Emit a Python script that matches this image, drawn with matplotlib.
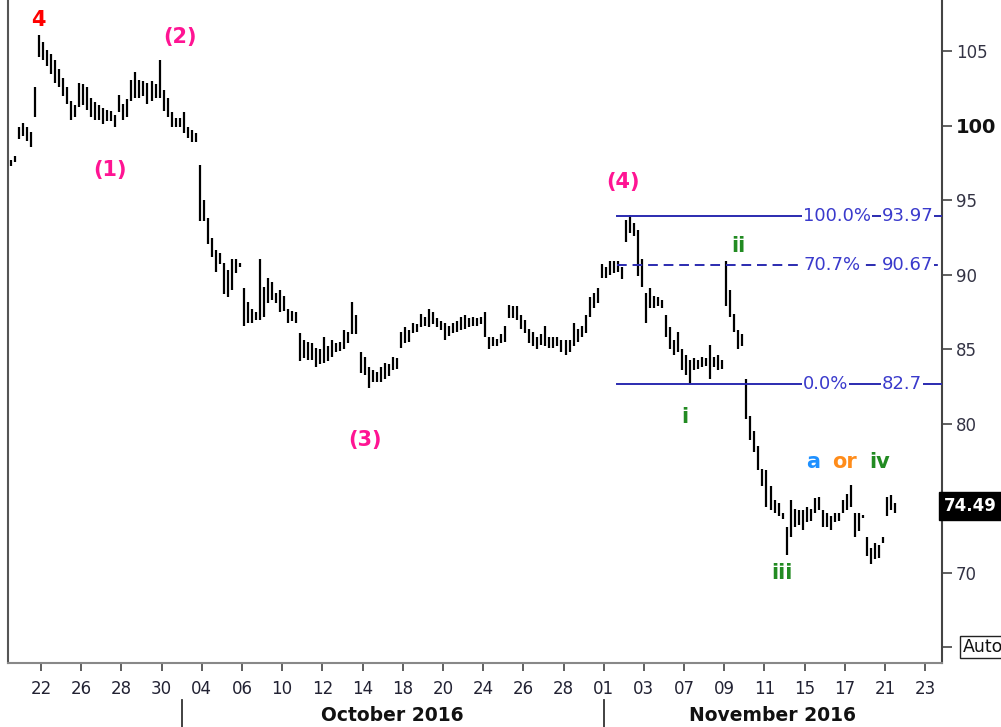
import numpy as np
import pandas as pd
import matplotlib
matplotlib.use("Agg")
import matplotlib.pyplot as plt
from matplotlib.transforms import blended_transform_factory

# trading days shown on the axis (first one only partly visible)
days = pd.bdate_range("2016-09-20", "2016-11-23")
bars_per_day = 5

# hourly-ish bars, grouped by trading day
highs = [
    97.7, 98.0, 99.9,                       # Sep 20 (partial)
    100.2, 99.9, 99.6, 102.6, 106.1,        # Sep 21
    105.6, 105.1, 104.8, 104.4, 103.8,      # Sep 22
    103.2, 102.6, 101.7, 101.4, 102.9,      # Sep 23
    102.8, 102.6, 101.9, 101.6, 101.4,      # Sep 26
    101.2, 101.1, 101.0, 100.7, 102.1,      # Sep 27
    101.5, 101.8, 103.1, 103.6, 103.1,      # Sep 28
    103.0, 102.9, 103.0, 102.8, 104.4,      # Sep 29
    102.4, 101.9, 100.9, 100.5, 100.5,      # Sep 30
    100.9, 99.9, 99.7, 99.5, 97.4,          # Oct 03
    95.0, 93.8, 92.5, 91.7, 91.5,           # Oct 04
    90.8, 90.3, 91.1, 91.1, 90.8,           # Oct 05
    89.1, 88.2, 87.7, 87.5, 91.1,           # Oct 06
    89.2, 89.8, 89.5, 88.8, 89.0,           # Oct 07
    88.6, 87.7, 87.6, 87.5, 86.1,           # Oct 10
    85.6, 85.5, 85.4, 85.1, 85.0,           # Oct 11
    85.8, 85.2, 85.6, 85.4, 85.5,           # Oct 12
    86.3, 86.2, 88.2, 87.3, 84.8,           # Oct 13
    84.5, 83.8, 83.6, 83.5, 83.8,           # Oct 14
    84.1, 84.0, 84.5, 84.4, 86.2,           # Oct 17
    86.5, 86.3, 86.8, 86.7, 87.4,           # Oct 18
    87.2, 87.7, 87.5, 87.1, 86.9,           # Oct 19
    86.8, 86.6, 86.8, 86.9, 87.2,           # Oct 20
    87.3, 87.1, 87.2, 87.1, 87.2,           # Oct 21
    87.5, 85.8, 85.8, 85.7, 86.0,           # Oct 24
    86.6, 88.0, 87.9, 87.9, 87.3,           # Oct 25
    87.0, 86.4, 86.2, 85.8, 86.0,           # Oct 26
    86.6, 85.8, 85.8, 85.8, 85.6,           # Oct 27
    85.6, 85.6, 86.8, 86.4, 86.6,           # Oct 28
    87.3, 88.5, 88.8, 89.1, 90.7,           # Oct 31
    90.5, 90.9, 90.9, 90.9, 90.5,           # Nov 01
    93.7, 94.0, 93.5, 93.0, 91.1,           # Nov 02
    88.8, 89.1, 88.6, 88.5, 88.3,           # Nov 03
    87.3, 86.5, 85.6, 86.2, 85.0,           # Nov 04
    84.6, 84.3, 84.4, 84.3, 84.5,           # Nov 07
    84.4, 85.3, 84.5, 84.6, 84.3,           # Nov 08
    90.9, 89.0, 87.4, 86.3, 86.0,           # Nov 09
    83.0, 80.5, 79.5, 78.5, 77.0,           # Nov 10
    76.9, 75.8, 74.9, 74.7, 74.0,           # Nov 11
    73.1, 74.9, 74.3, 74.2, 74.2,           # Nov 14
    74.4, 74.3, 75.0, 75.1, 74.2,           # Nov 15
    74.0, 73.8, 74.0, 74.0, 74.9,           # Nov 16
    75.3, 75.9, 74.0, 74.0, 73.9,           # Nov 17
    72.4, 71.7, 72.0, 71.9, 72.4,           # Nov 18
    75.1, 75.2, 74.7,                       # Nov 21
]
lows = [
    97.3, 97.6, 99.1,
    99.3, 99.0, 98.6, 100.6, 104.6,
    104.4, 104.0, 103.5, 102.9, 102.6,
    102.0, 101.5, 100.4, 100.6, 101.3,
    101.4, 101.1, 100.6, 100.4, 100.4,
    100.1, 100.3, 100.3, 99.9, 100.9,
    100.4, 100.6, 101.7, 101.9, 101.9,
    102.0, 101.5, 101.7, 101.9, 101.9,
    101.0, 100.6, 99.9, 99.9, 99.9,
    99.5, 99.2, 98.9, 98.9, 93.6,
    93.6, 92.1, 91.2, 90.2, 90.7,
    88.7, 88.5, 89.0, 90.1, 90.5,
    86.6, 86.8, 86.8, 87.0, 87.0,
    87.2, 88.1, 88.3, 88.1, 87.5,
    87.6, 86.8, 86.9, 86.8, 84.2,
    84.4, 84.3, 84.3, 83.8, 84.0,
    84.1, 84.2, 84.5, 84.8, 84.9,
    85.0, 85.4, 86.0, 86.0, 83.4,
    83.3, 82.4, 82.8, 82.8, 82.8,
    83.0, 83.2, 83.6, 83.7, 85.1,
    85.4, 85.5, 86.1, 86.2, 86.5,
    86.6, 86.5, 86.7, 86.5, 86.3,
    85.6, 85.9, 86.1, 86.2, 86.3,
    86.4, 86.5, 86.6, 86.6, 86.7,
    85.8, 85.0, 85.2, 85.2, 85.4,
    85.5, 87.1, 87.1, 87.0, 86.4,
    86.1, 85.4, 85.2, 85.0, 85.3,
    85.2, 85.1, 85.1, 85.2, 84.8,
    84.6, 84.8, 85.2, 85.5, 85.8,
    86.1, 87.2, 87.8, 88.1, 89.8,
    89.8, 90.0, 90.1, 90.2, 89.7,
    92.2, 92.8, 92.6, 89.9, 89.2,
    86.8, 87.8, 87.8, 87.9, 87.8,
    85.8, 85.0, 84.6, 84.8, 83.6,
    83.3, 82.7, 83.6, 83.7, 83.8,
    83.9, 83.0, 83.8, 83.6, 83.7,
    87.9, 87.2, 86.2, 85.0, 85.2,
    80.3, 78.9, 78.1, 76.9, 75.8,
    74.4, 74.2, 74.0, 73.8, 73.6,
    71.2, 72.4, 73.1, 73.2, 72.9,
    73.4, 73.5, 74.0, 74.2, 73.1,
    73.1, 72.9, 73.4, 73.5, 74.0,
    74.2, 74.4, 72.4, 72.8, 73.7,
    71.1, 70.6, 70.9, 71.0, 72.0,
    73.8, 74.2, 74.0,
]
last_price = 74.49

# fibonacci retracement levels
fib_pcts = ["100.0%", "70.7%", "0.0%"]
fib_vals = [93.97, 90.67, 82.7]
fib_styles = ["-", "--", "-"]

# elliott wave labels: text, trading-day position, price, colour
waves = [
    ("4", 1.85, 107.1, "#ff0000"),
    ("(2)", 8.92, 106.0, "#ff1493"),
    ("(1)", 5.43, 97.05, "#ff1493"),
    ("(3)", 18.12, 78.9, "#ff1493"),
    ("(4)", 30.96, 96.25, "#ff1493"),
    ("ii", 36.68, 91.95, "#228b22"),
    ("i", 34.04, 80.45, "#228b22"),
    ("iii", 38.87, 70.0, "#228b22"),
    ("a", 40.41, 77.45, "#1e90ff"),
    ("or", 42.0, 77.45, "#ff8c1a"),
    ("iv", 43.74, 77.45, "#228b22"),
]

fig = plt.figure(figsize=(10.01, 7.27), dpi=100)
ax = fig.add_axes([0.008, 0.088, 0.933, 0.912])

n = len(highs)
first_bar = 2.5 / bars_per_day  # first visible slot on Sep 20
xs = first_bar + np.arange(n) / bars_per_day
ax.vlines(xs, lows, highs, color="black", lw=1.6)

# fib lines + labels
fib_start = 30.66
for pct, val, ls in zip(fib_pcts, fib_vals, fib_styles):
    ax.plot([fib_start, 47], [val, val], color="#2b2bb0", lw=1.4, ls=ls,
            dashes=(5, 3) if ls == "--" else (None, None), zorder=3)
    ax.text(39.92, val, pct, ha="left", va="center", fontsize=13,
            color="#3a3acc", zorder=4,
            bbox=dict(facecolor="white", edgecolor="none", pad=0.5))
    ax.text(43.84, val, "%g" % val, ha="left", va="center", fontsize=13,
            color="#3a3acc", zorder=4,
            bbox=dict(facecolor="white", edgecolor="none", pad=0.5))

for txt, x, y, c in waves:
    ax.text(x, y, txt, ha="center", va="center", fontsize=15,
            fontweight="bold", color=c)

ax.set_xlim(0.36, 46.83)
ax.set_ylim(63.95, 108.45)

# axes look
ax.spines["top"].set_visible(False)
ax.spines["left"].set_color("#555555")
ax.spines["right"].set_color("#444444")
ax.spines["bottom"].set_color("#888888")
for s in ["left", "right", "bottom"]:
    ax.spines[s].set_linewidth(1.5)

ax.yaxis.tick_right()
yt = [65, 70, 80, 85, 90, 95, 100, 105]
ax.set_yticks(yt)
ax.set_yticklabels(["" if v == 65 else str(v) for v in yt])
ax.tick_params(axis="y", direction="out", length=7, width=1.2, pad=3,
               labelsize=12, labelcolor="#333344", color="#444444")
for lab in ax.get_yticklabels():
    if lab.get_text() == "100":
        lab.set_fontweight("bold")
        lab.set_fontsize(14)
        lab.set_color("#111111")

xt = list(range(2, len(days), 2))
ax.set_xticks(xt)
ax.set_xticklabels([days[i].strftime("%d") for i in xt])
ax.tick_params(axis="x", direction="out", length=6, width=1.2, pad=6,
               labelsize=12, labelcolor="#222233", color="#444444")

# last price and "Auto" boxes on the price axis
yax = blended_transform_factory(ax.transAxes, ax.transData)
ax.text(1.002, last_price, "%.2f" % last_price, transform=yax, ha="left",
        va="center", fontsize=12, fontweight="bold", color="white",
        bbox=dict(facecolor="black", edgecolor="black", pad=3.5))
ax.text(1.022, 65, "Auto", transform=yax, ha="left", va="center",
        fontsize=12.5, color="#111111",
        bbox=dict(facecolor="white", edgecolor="#222222", lw=1, pad=1.5))

# month separators and names
xfig = blended_transform_factory(ax.transData, fig.transFigure)
for m, name in [("2016-10", "October 2016"), ("2016-11", "November 2016")]:
    idx = [i for i, d in enumerate(days) if d.strftime("%Y-%m") == m]
    start = idx[0]
    end = min(idx[-1] + 1, 46.83)
    ax.plot([start, start], [0.0, 0.037], transform=xfig, color="#333333",
            lw=1.3, clip_on=False)
    ax.text((start + end) / 2, 0.016, name, transform=xfig, ha="center",
            va="center", fontsize=13.5, fontweight="bold", color="#111111")

fig.savefig("out.png", dpi=100)
